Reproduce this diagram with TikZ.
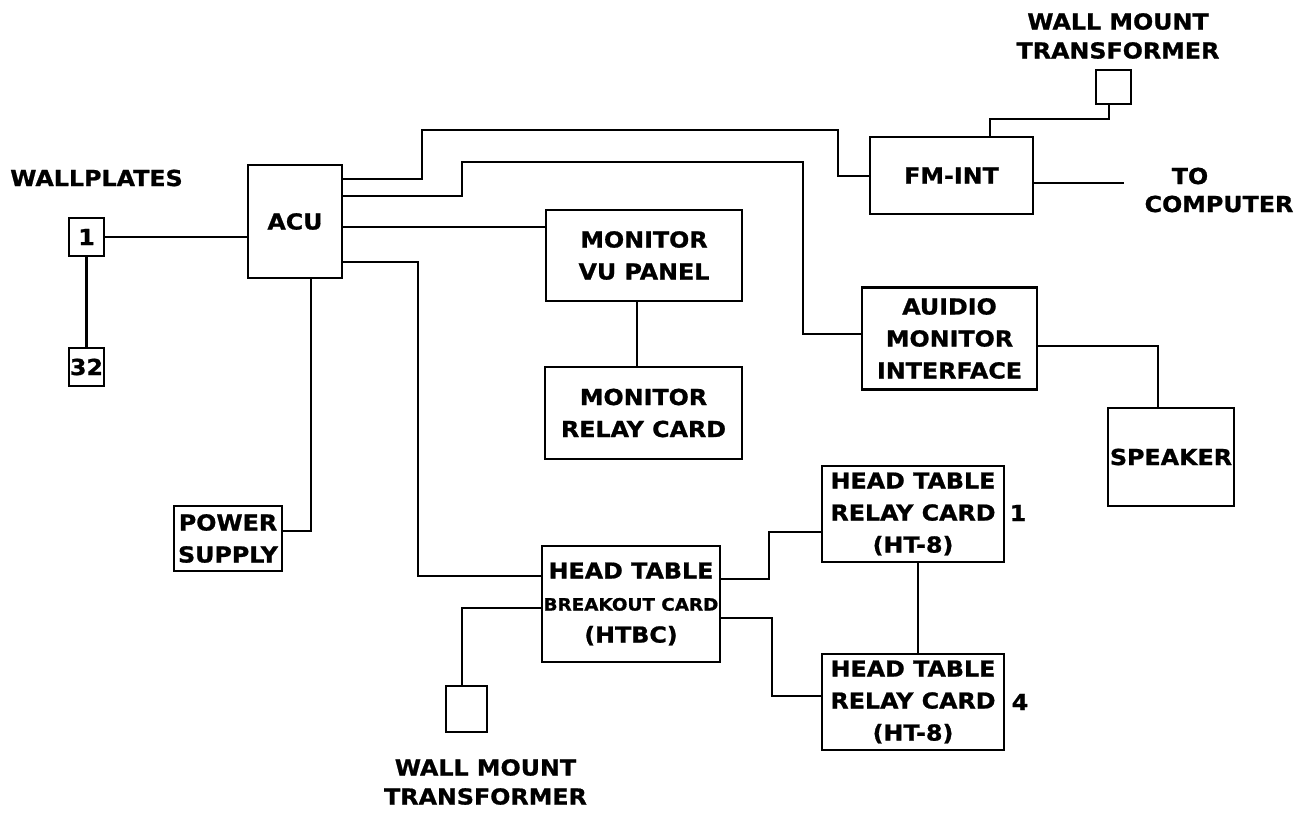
\documentclass[tikz,border=0pt]{standalone}
\usepackage{fontspec}
\setmainfont{DejaVu Sans}[FakeStretch=1.08, BoldFeatures={FakeBold=1}]
\begin{document}
\begin{tikzpicture}[
        x=1pt, y=-1pt,
        line width=2.2pt,
        box/.style={draw, line width=2.2pt, inner sep=0pt, align=center,
            font=\bfseries\fontsize{22}{32}\selectfont},
        lbl/.style={inner sep=0pt, align=center, font=\bfseries\fontsize{22}{29}\selectfont},
        wire/.style={line width=2.2pt}
    ]
        \useasboundingbox (0,0) rectangle (1299,816);

        % Wallplates
        \node[lbl] (wplabel) at (96.5,178) {WALLPLATES};
        \node[box, minimum width=35pt, minimum height=38pt] (wp1) at (86.5,237) {1};
        \node[box, minimum width=35pt, minimum height=38pt] (wp32) at (86.5,367) {32};

        % Units
        \node[box, minimum width=94pt, minimum height=113pt] (acu) at (295,221.5) {ACU};
        \node[box, minimum width=108pt, minimum height=65pt] (psu) at (228,538.5) {POWER\\SUPPLY};
        \node[box, minimum width=163pt, minimum height=77pt] (fmint) at (951.5,175.5) {FM-INT};
        \node[box, minimum width=35pt, minimum height=34pt] (wmtop) at (1113.5,87) {};
        \node[lbl] (wmtoplabel) at (1118,36) {WALL MOUNT\\TRANSFORMER};
        \node[lbl] (complabel1) at (1190,176) {TO};
        \node[lbl] (complabel2) at (1219,204) {COMPUTER};
        \node[box, minimum width=196pt, minimum height=91pt] (vupanel) at (644,255.5) {MONITOR\\VU PANEL};
        \node[box, minimum width=197pt, minimum height=92pt] (relaycard) at (643.5,413) {MONITOR\\RELAY CARD};
        \node[box, minimum width=175pt, minimum height=102pt] (audiomon) at (949.5,338.5) {AUIDIO\\MONITOR\\INTERFACE};
        \node[box, minimum width=126pt, minimum height=98pt] (speaker) at (1171,457) {SPEAKER};

        % Head table
        \node[box, minimum width=178pt, minimum height=116pt] (htbc) at (631,604)
            {HEAD TABLE\\{\fontsize{17}{32}\selectfont BREAKOUT CARD}\\(HTBC)};
        \node[box, minimum width=182pt, minimum height=96pt] (htrc1) at (913,514) {HEAD TABLE\\RELAY CARD\\(HT-8)};
        \node[box, minimum width=182pt, minimum height=96pt] (htrc4) at (913,702) {HEAD TABLE\\RELAY CARD\\(HT-8)};
        \node[lbl] (num1) at (1018,513) {1};
        \node[lbl] (num4) at (1020,702) {4};
        \node[box, minimum width=41pt, minimum height=46pt] (wmbot) at (466.5,709) {};
        \node[lbl] (wmbotlabel) at (485.5,782) {WALL MOUNT\\TRANSFORMER};

        % Wiring
        \draw[wire] (wp1) -- (acu.west |- wp1);
        \draw[wire] (wp1) -- (wp32);
        \draw[wire] (acu.south -| 311,0) |- (psu.east |- 0,531);
        \draw[wire] (acu.east |- 0,179) -- (422,179) |- (838,130) |- (fmint.west |- 0,176);
        \draw[wire] (acu.east |- 0,196) -- (462,196) |- (803,162) |- (audiomon.west |- 0,334);
        \draw[wire] (acu.east |- 0,227) -- (vupanel.west |- 0,227);
        \draw[wire] (acu.east |- 0,262) -| (418,576) -- (htbc.west |- 0,576);
        \draw[wire] (vupanel.south -| 637,0) -- (relaycard.north -| 637,0);
        \draw[wire] (audiomon.east |- 0,346) -| (speaker.north -| 1158,0);
        \draw[wire] (fmint.north -| 990,0) |- (1109,119) -- (wmtop.south -| 1109,0);
        \coordinate (tocomp) at (1124,183);
        \draw[wire] (fmint.east |- tocomp) -- (tocomp);
        \draw[wire] (htbc.west |- 0,608) -| (wmbot.north -| 462,0);
        \draw[wire] (htbc.east |- 0,579) -| (769,532) -- (htrc1.west |- 0,532);
        \draw[wire] (htbc.east |- 0,618) -| (772,696) -- (htrc4.west |- 0,696);
        \draw[wire] (htrc1.south -| 918,0) -- (htrc4.north -| 918,0);
    \end{tikzpicture}
\end{document}
